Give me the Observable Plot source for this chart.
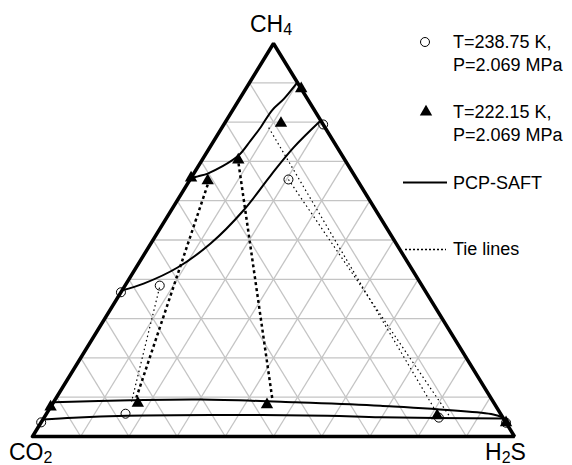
<!DOCTYPE html>
<html><head><meta charset="utf-8">
<script src="https://cdn.jsdelivr.net/npm/d3@7"></script>
<script src="https://cdn.jsdelivr.net/npm/@observablehq/plot@0.6"></script>
<style>body{margin:0;background:#fff;} svg{display:block;}</style>
</head><body><div id="chart"></div>
<script>
// Ternary CH4 (top) – CO2 (bottom-left) – H2S (bottom-right); CO2 = 1 - CH4 - H2S
const gridFractions = [0.1,0.2,0.3,0.4,0.5,0.6,0.7,0.8,0.9];

// Experimental points, T = 238.75 K, P = 2.069 MPa (open circles)
const exp238_CH4 = [0.794, 0.654, 0.367, 0.384, 0.036, 0.058, 0.048, 0.035];
const exp238_H2S = [0.206, 0.204, 0.000, 0.072, 0.000, 0.164, 0.819, 0.965];

// Experimental points, T = 222.15 K, P = 2.069 MPa (filled triangles)
const exp222_CH4 = [0.885, 0.797, 0.658, 0.651, 0.704, 0.075, 0.085, 0.081, 0.053, 0.035];
const exp222_H2S = [0.115, 0.117, 0.000, 0.038, 0.075, 0.000, 0.176, 0.446, 0.813, 0.965];

// PCP-SAFT phase boundaries
const saft222V_CH4 = [0.646, 0.657, 0.662, 0.669, 0.713, 0.753, 0.787, 0.830, 0.859, 0.901];
const saft222V_H2S = [0.000, 0.003, 0.012, 0.029, 0.069, 0.076, 0.080, 0.082, 0.092, 0.099];
const saft238V_CH4 = [0.372, 0.389, 0.430, 0.491, 0.575, 0.664, 0.735, 0.804];
const saft238V_H2S = [0.000, 0.036, 0.086, 0.124, 0.150, 0.162, 0.174, 0.196];
const saft222L_CH4 = [0.087, 0.092, 0.094, 0.087, 0.078, 0.056, 0.048];
const saft222L_H2S = [0.000, 0.158, 0.302, 0.502, 0.683, 0.928, 0.952];
const saft238L_CH4 = [0.043, 0.048, 0.053, 0.055, 0.053, 0.049, 0.046];
const saft238L_H2S = [0.000, 0.061, 0.170, 0.342, 0.585, 0.698, 0.954];

// Tie lines: [CH4, H2S] of vapour end and liquid end
const tie222_top_CH4 = [0.641, 0.695];
const tie222_top_H2S = [0.043, 0.080];
const tie222_bot_CH4 = [0.099, 0.092];
const tie222_bot_H2S = [0.166, 0.452];
const tieThin_top_CH4 = [0.786, 0.654, 0.379];
const tieThin_top_H2S = [0.097, 0.204, 0.074];
const tieThin_bot_CH4 = [0.069, 0.053, 0.089];
const tieThin_bot_H2S = [0.800, 0.838, 0.161];

const legendLabels = [["T=238.75 K,", "P=2.069 MPa"], ["T=222.15 K,", "P=2.069 MPa"], ["PCP-SAFT"], ["Tie lines"]];

// ternary -> cartesian
const tx = (c, h) => h + c / 2;
const pts = (C, H) => C.map((c, i) => ({x: tx(c, H[i]), y: c}));
const links = (C1, H1, C2, H2) => C1.map((c, i) => ({x1: tx(c, H1[i]), y1: c, x2: tx(C2[i], H2[i]), y2: C2[i]}));

const vertices = [{c: 0, h: 0}, {c: 0, h: 1}, {c: 1, h: 0}, {c: 0, h: 0}].map(v => ({x: tx(v.c, v.h), y: v.c}));

const grid = [];
for (const f of gridFractions) {
  grid.push({x1: tx(f, 0), y1: f, x2: tx(f, 1 - f), y2: f});              // CH4 const
  grid.push({x1: tx(0, f), y1: 0, x2: tx(1 - f, f), y2: 1 - f});          // H2S const
  grid.push({x1: tx(0, 1 - f), y1: 0, x2: tx(1 - f, 0), y2: 1 - f});      // CO2 const
}

const curveOpts = {x: "x", y: "y", stroke: "black", strokeWidth: 2, curve: "catmull-rom"};

const plot = Plot.plot({
  width: 572, height: 465,
  marginLeft: 32, marginRight: 58, marginTop: 43, marginBottom: 29,
  x: {domain: [0, 1], axis: null},
  y: {domain: [0, 1], axis: null},
  style: {fontFamily: "Liberation Sans, Arial, sans-serif", background: "white"},
  marks: [
    Plot.link(grid, {x1: "x1", y1: "y1", x2: "x2", y2: "y2", stroke: "#c4c4c4", strokeWidth: 1.3}),
    Plot.line(pts(saft222V_CH4, saft222V_H2S), curveOpts),
    Plot.line(pts(saft238V_CH4, saft238V_H2S), curveOpts),
    Plot.line(pts(saft222L_CH4, saft222L_H2S), curveOpts),
    Plot.line(pts(saft238L_CH4, saft238L_H2S), curveOpts),
    Plot.link(links(tie222_top_CH4, tie222_top_H2S, tie222_bot_CH4, tie222_bot_H2S),
      {x1: "x1", y1: "y1", x2: "x2", y2: "y2", stroke: "black", strokeWidth: 2.5, strokeDasharray: "3,3"}),
    Plot.link(links(tieThin_top_CH4, tieThin_top_H2S, tieThin_bot_CH4, tieThin_bot_H2S),
      {x1: "x1", y1: "y1", x2: "x2", y2: "y2", stroke: "black", strokeWidth: 1.2, strokeDasharray: "1.5,3"}),
    Plot.line(vertices, {x: "x", y: "y", stroke: "black", strokeWidth: 3.5, strokeLinejoin: "miter"}),
    Plot.dot(pts(exp238_CH4, exp238_H2S), {x: "x", y: "y", r: 4.5, stroke: "black", strokeWidth: 1, fill: "none"}),
    Plot.dot(pts(exp222_CH4, exp222_H2S), {x: "x", y: "y", r: 4.6, symbol: "triangle", fill: "black", stroke: "none"})
  ]
});

const svg = d3.select(plot);
const X = plot.scale("x"), Y = plot.scale("y");
const font = "Liberation Sans, Arial, sans-serif";

// vertex labels with subscripts
function vlabel(px, py, parts, anchor) {
  const t = svg.append("text").attr("x", px).attr("y", py).attr("text-anchor", anchor)
    .attr("font-family", font).attr("font-size", 23).attr("fill", "black");
  let shift = 0;
  for (const [s, sub] of parts) {
    const sp = t.append("tspan").text(s);
    if (sub) { sp.attr("font-size", 16).attr("dy", 3); shift = 3; }
    else if (shift) { sp.attr("dy", -shift); shift = 0; }
  }
}
vlabel(X.apply(0.5) - 2, Y.apply(1) - 11, [["CH", 0], ["4", 1]], "middle");
vlabel(X.apply(0) - 23, Y.apply(0) + 24, [["CO", 0], ["2", 1]], "start");
vlabel(X.apply(1) - 29, Y.apply(0) + 24, [["H", 0], ["2", 1], ["S", 0]], "start");

// legend
const lg = svg.append("g").attr("font-family", font).attr("font-size", 18).attr("fill", "black").attr("text-anchor", "start");
const textX = 453;
const rows = [48, 118, 189, 255];
legendLabels.forEach((lines, i) => {
  lines.forEach((s, j) => lg.append("text").attr("x", textX).attr("y", rows[i] + j * 23).attr("text-anchor", "start").text(s));
});
lg.append("circle").attr("cx", 425).attr("cy", 42).attr("r", 4.5).attr("fill", "none").attr("stroke", "black");
lg.append("path").attr("transform", "translate(426,112)").attr("d", d3.symbol(d3.symbolTriangle, Math.PI * 4.6 * 4.6)()).attr("fill", "black");
lg.append("line").attr("x1", 403).attr("x2", 447).attr("y1", 182.5).attr("y2", 182.5).attr("stroke", "black").attr("stroke-width", 2);
lg.append("line").attr("x1", 405).attr("x2", 446).attr("y1", 249.5).attr("y2", 249.5).attr("stroke", "black").attr("stroke-width", 1.5).attr("stroke-dasharray", "2,2");

document.getElementById("chart").append(plot);
</script>
</body></html>
